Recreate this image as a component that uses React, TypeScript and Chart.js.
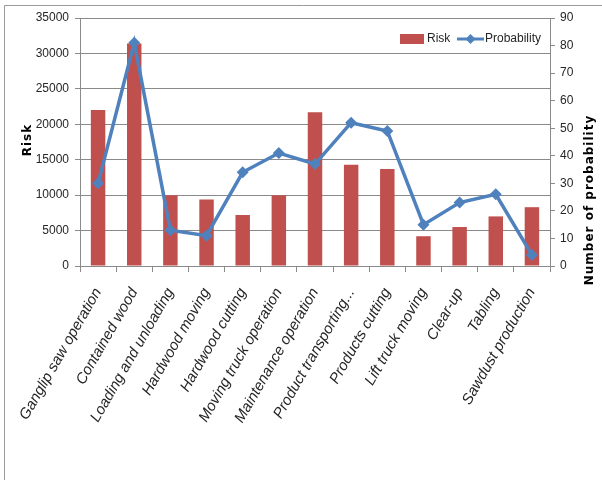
import React, { useEffect, useRef } from "react";
import { Chart, registerables } from "chart.js";

Chart.register(...registerables);

// Activities assessed in the sawmill
const categories = [
  "Ganglip saw operation",
  "Contained wood",
  "Loading and unloading",
  "Hardwood moving",
  "Hardwood cutting",
  "Moving truck operation",
  "Maintenance operation",
  "Product transporting...",
  "Products cutting",
  "Lift truck moving",
  "Clear-up",
  "Tabling",
  "Sawdust production",
];

// Risk score per activity (left axis)
const riskValues = [22000, 31400, 10000, 9400, 7200, 10000, 21700, 14300, 13700, 4200, 5500, 7000, 8300];

// Number of probability per activity (right axis)
const probabilityValues = [30, 81, 13, 11, 34, 41, 37, 52, 49, 15, 23, 26, 4];

// Axis ranges
const riskMax = 35000;
const riskStep = 5000;
const probabilityMax = 90;
const probabilityStep = 10;

const RED = "#C0504D";
const BLUE = "#4F81BD";
const GRID = "#8a8a8a";
const TEXT = "#262626";
const TICK_FONT = '"Liberation Sans", Arial, sans-serif';
const TITLE_FONT = '"DejaVu Sans", Verdana, sans-serif';

const plainNumber = (value: any) => String(value);

const decorations = {
  id: "decorations",
  beforeDraw(chart: any) {
    const ctx = chart.ctx as CanvasRenderingContext2D;
    ctx.save();
    ctx.fillStyle = "#ffffff";
    ctx.fillRect(0, 0, chart.width, chart.height);
    ctx.strokeStyle = "#9a9a9a";
    ctx.lineWidth = 1;
    ctx.beginPath();
    ctx.moveTo(4.5, chart.height);
    ctx.lineTo(4.5, 5.5);
    ctx.lineTo(chart.width, 5.5);
    ctx.stroke();
    ctx.restore();
  },
  afterDraw(chart: any) {
    const ctx = chart.ctx as CanvasRenderingContext2D;
    const area = chart.chartArea;

    // Axis titles, both reading bottom to top
    const drawTitle = (text: string, x: number, y: number) => {
      ctx.save();
      ctx.translate(x, y);
      ctx.rotate(-Math.PI / 2);
      ctx.font = `bold 12px ${TITLE_FONT}`;
      (ctx as any).letterSpacing = "1px";
      ctx.fillStyle = "#000000";
      ctx.textAlign = "center";
      ctx.textBaseline = "middle";
      ctx.fillText(text, 0, 0);
      ctx.restore();
    };
    drawTitle("Risk", 28, 140);
    drawTitle("Number of probability", 590, 200);

    // Legend in the upper right of the plot
    const ly = area.top + 21;
    ctx.save();
    ctx.fillStyle = RED;
    ctx.fillRect(400, ly - 5, 24, 10);
    ctx.font = `12px ${TICK_FONT}`;
    ctx.fillStyle = TEXT;
    ctx.textBaseline = "middle";
    ctx.textAlign = "left";
    ctx.fillText("Risk", 427, ly);
    ctx.strokeStyle = BLUE;
    ctx.lineWidth = 3;
    ctx.beginPath();
    ctx.moveTo(457, ly);
    ctx.lineTo(484, ly);
    ctx.stroke();
    ctx.fillStyle = BLUE;
    ctx.beginPath();
    ctx.moveTo(470.5, ly - 5);
    ctx.lineTo(475.5, ly);
    ctx.lineTo(470.5, ly + 5);
    ctx.lineTo(465.5, ly);
    ctx.closePath();
    ctx.fill();
    ctx.fillStyle = TEXT;
    ctx.fillText("Probability", 485, ly);
    ctx.restore();
  },
};

export default function App() {
  const canvasRef = useRef<HTMLCanvasElement | null>(null);

  useEffect(() => {
    if (!canvasRef.current) return;
    const chart = new Chart(canvasRef.current, {
      type: "bar",
      data: {
        labels: categories,
        datasets: [
          {
            type: "line",
            label: "Probability",
            data: probabilityValues,
            yAxisID: "y1",
            borderColor: BLUE,
            backgroundColor: BLUE,
            borderWidth: 3.5,
            pointStyle: "rectRot",
            pointRadius: 6,
            pointBorderWidth: 0,
            pointBackgroundColor: BLUE,
            tension: 0,
            order: 1,
          } as any,
          {
            type: "bar",
            label: "Risk",
            data: riskValues,
            yAxisID: "y",
            backgroundColor: RED,
            barPercentage: 0.4,
            categoryPercentage: 1,
            order: 2,
          },
        ],
      },
      options: {
        responsive: false,
        animation: false,
        devicePixelRatio: 1,
        layout: { padding: { top: 18, left: 0, right: 0, bottom: 0 } },
        plugins: {
          legend: { display: false },
          tooltip: { enabled: false },
        },
        scales: {
          x: {
            offset: true,
            grid: {
              display: true,
              drawOnChartArea: false,
              drawTicks: true,
              tickLength: 6,
              color: GRID,
              offset: true,
            },
            border: { color: GRID },
            ticks: {
              autoSkip: false,
              minRotation: 60,
              maxRotation: 60,
              padding: 13,
              color: TEXT,
              font: { family: TICK_FONT, size: 15, style: "italic" },
            },
            afterFit(scale: any) {
              scale.height = 214;
            },
          },
          y: {
            position: "left",
            min: 0,
            max: riskMax,
            ticks: {
              stepSize: riskStep,
              padding: 6,
              color: TEXT,
              font: { family: TICK_FONT, size: 12 },
              callback: plainNumber,
            },
            grid: { color: GRID, tickLength: 5 },
            border: { color: GRID },
            afterFit(scale: any) {
              scale.width = 80;
            },
          },
          y1: {
            position: "right",
            min: 0,
            max: probabilityMax,
            ticks: {
              stepSize: probabilityStep,
              padding: 5,
              color: TEXT,
              font: { family: TICK_FONT, size: 12 },
              callback: plainNumber,
            },
            grid: { drawOnChartArea: false, color: GRID, tickLength: 5 },
            border: { color: GRID },
            afterFit(scale: any) {
              scale.width = 52;
            },
          },
        },
      },
      plugins: [decorations],
    });
    return () => chart.destroy();
  }, []);

  return (
    <div style={{ position: "fixed", left: 0, top: 0, width: 602, height: 480, background: "#fff" }}>
      <canvas ref={canvasRef} width={602} height={480} style={{ display: "block", width: 602, height: 480 }} />
    </div>
  );
}
